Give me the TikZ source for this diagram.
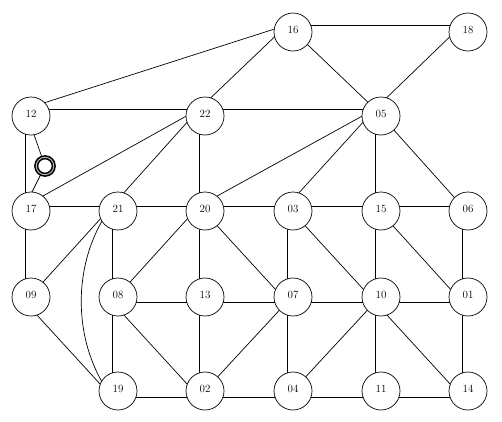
\documentclass[tikz,border=0pt]{standalone}
\usetikzlibrary{backgrounds}
\begin{document}
\begin{tikzpicture}[x=1pt,y=-1pt,
  vtx/.style={draw, circle, fill=white, minimum size=38pt, inner sep=0pt, line width=0.7pt, font=\fontsize{11}{13}\selectfont},
  edge/.style={line width=0.7pt},
  ringstyle/.style={draw, circle, fill=white, minimum size=17.5pt, inner sep=0pt, line width=1.6pt, double=gray!60, double distance=1pt}]
\useasboundingbox (0,0) rectangle (502,421);
% vertices: name / center / pin
\foreach \n/\x/\y/\py in {16/293/32/25, 18/468/32/25, 12/31/116/109, 22/205/116/109, 05/381/116/109,
  17/31/211/206, 21/118/211/206, 20/205/211/206, 03/293/211/206, 15/381/211/206, 06/468/211/206,
  09/31/297/302, 08/118/297/302, 13/205/297/302, 07/293/297/302, 10/381/297/302, 01/468/297/302,
  19/118/391/397, 02/205/391/397, 04/293/391/397, 11/381/391/397, 14/468/391/397}{
  \node[vtx] (n\n) at (\x,\y) {\raisebox{4pt}{\n}};
  \coordinate (p\n) at (\x-6,\py);
}
\node[ringstyle] (ring) at (45,166) {};
\begin{pgfonlayer}{background}
\foreach \a/\b in {16/18, 16/12, 16/22, 16/05, 18/05,
  12/22, 22/05, 12/17,
  22/17, 22/21, 22/20,
  05/20, 05/03, 05/15, 05/06,
  17/21, 21/20, 20/03, 03/15, 15/06,
  17/09, 21/09, 21/08,
  20/08, 20/13, 20/07,
  03/07, 03/10, 15/10, 15/01, 06/01,
  09/19, 08/13, 13/07, 07/10, 10/01,
  08/19, 08/02, 13/02, 07/02, 07/04, 10/04, 10/11, 10/14, 01/14,
  19/02, 02/04, 04/11, 11/14}{
  \draw[edge] (p\a) -- (p\b);
}
\draw[edge] (p12) -- (ring.center) -- (p17);
\draw[edge] (p21) .. controls (71,260) and (71,343) .. (p19);
\end{pgfonlayer}
\end{tikzpicture}
\end{document}
